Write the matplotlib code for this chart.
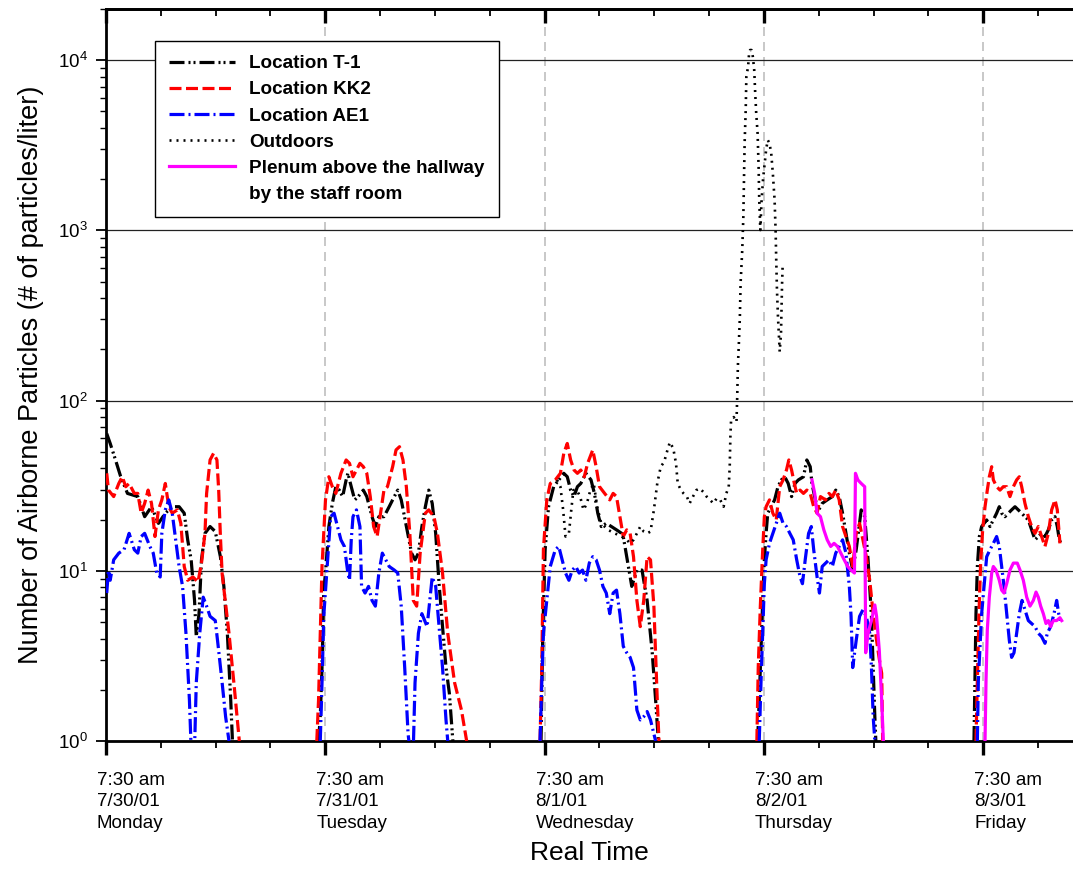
import numpy as np
import matplotlib
matplotlib.use('Agg')
import matplotlib.pyplot as plt
from matplotlib.lines import Line2D
from matplotlib.ticker import FixedLocator, LogLocator, NullFormatter, MultipleLocator
import matplotlib.transforms as mtransforms

plt.rcParams['font.family'] = ['Liberation Sans', 'DejaVu Sans']
plt.rcParams['mathtext.fontset'] = 'custom'
plt.rcParams['mathtext.rm'] = 'Liberation Sans'
plt.rcParams['mathtext.it'] = 'Liberation Sans:italic'
plt.rcParams['mathtext.bf'] = 'Liberation Sans:bold'
plt.rcParams['lines.scale_dashes'] = False

# ---------------- data: (hours since Mon 7/30/01 7:30 am, particles/liter) ----------------
T1 = [(0.08, 64), (0.46, 56), (1.03, 45), (1.59, 36), (2.35, 28.5), (3.48, 27.3), (4.23, 20.8),
      (4.98, 23.8), (5.74, 19), (6.49, 21.8), (7.25, 23.8), (8.00, 23.8), (8.56, 21.8), (8.94, 15.2),
      (9.32, 11.6), (9.69, 6.7), (9.88, 4.1), (10.18, 5.6), (10.45, 11.6), (10.83, 16.6), (11.39, 18.2),
      (11.96, 17), (12.52, 12.1), (12.90, 8.1), (13.28, 4.3), (13.65, 1.74), (13.84, 1.0),
      (23.26, 1.0), (23.45, 1.39), (23.64, 2.7), (23.83, 7.7), (24.02, 9.7), (24.39, 18.2), (24.77, 24.9),
      (25.15, 31.2), (25.53, 29.8), (25.90, 27.3), (26.28, 34.2), (26.47, 37.4), (26.84, 31.2),
      (27.22, 26.1), (27.60, 27.3), (28.16, 29.8), (28.54, 27.3), (29.11, 20.8), (29.48, 18.2),
      (29.86, 20.8), (30.42, 20.8), (30.99, 23.8), (31.55, 27.3), (31.93, 29.8), (32.31, 26.1),
      (32.87, 18.2), (33.44, 12.7), (33.82, 11.6), (34.19, 12.7), (34.57, 18.2), (34.95, 23.8),
      (35.32, 29.8), (35.70, 24.9), (36.08, 16.6), (36.45, 8.4), (36.83, 4.7), (37.21, 2.7),
      (37.58, 1.9), (37.96, 1.0),
      (47.61, 1.0), (47.80, 4.3), (48.06, 13.3), (48.43, 23.8), (48.99, 31.2), (49.55, 34.2),
      (50.10, 37.4), (50.48, 35.7), (50.85, 29.8), (51.22, 27.3), (51.59, 31.2), (51.96, 32.6),
      (52.52, 37.4), (53.08, 34.2), (53.45, 28.5), (53.82, 21.8), (54.20, 18.2), (54.75, 19.0),
      (55.31, 18.2), (55.87, 17.4), (56.43, 16.6), (56.61, 15.9), (57.17, 10.6), (57.54, 8.1),
      (58.10, 10.1), (58.66, 10.1), (59.22, 6.7), (59.78, 3.3), (60.15, 1.74), (60.45, 1.0),
      (71.31, 1.0), (71.49, 1.74), (71.68, 3.4), (71.87, 6.7), (72.05, 11.6), (72.24, 16.6),
      (72.42, 21.8), (72.80, 23.8), (73.17, 26.1), (73.54, 31.2), (73.91, 34.2), (74.28, 35.7),
      (74.66, 32.6), (75.03, 27.3), (75.40, 32.6), (75.77, 34.2), (76.33, 35.7), (76.70, 44.8),
      (77.07, 40.9), (77.26, 32.6), (77.63, 26.1), (78.00, 22.8), (78.38, 24.9), (78.93, 26.1),
      (79.49, 27.3), (79.86, 29.8), (80.24, 27.3), (80.61, 21.8), (80.98, 16.6), (81.35, 12.7),
      (81.72, 10.1), (82.10, 13.3), (82.65, 22.8), (83.03, 20.8), (83.40, 11.6), (83.77, 5.4),
      (83.96, 2.7), (84.14, 1.39), (84.25, 1.0),
      (94.99, 1.0), (95.10, 2.28), (95.21, 5.6), (95.36, 10.6), (95.58, 15.9), (95.83, 18.2),
      (96.09, 19.0), (96.38, 19.9), (96.74, 18.2), (97.11, 19.9), (97.47, 21.8), (97.76, 23.8),
      (98.02, 21.8), (98.38, 20.8), (98.75, 21.8), (99.11, 22.8), (99.48, 23.8), (99.84, 22.8),
      (100.21, 21.8), (100.57, 20.8), (100.94, 19.9), (101.30, 17.4), (101.67, 15.2), (102.03, 15.9),
      (102.40, 16.6), (102.76, 15.9), (103.13, 17.4), (103.49, 19.9), (103.86, 20.8), (104.11, 18.2),
      (104.33, 15.2), (104.51, 14.5)]

KK2 = [(0.08, 37.4), (0.27, 29.8), (0.84, 27.3), (1.40, 32.6), (1.78, 35.7), (2.16, 31.2), (2.53, 32.6),
       (3.10, 28.5), (3.48, 28.5), (3.85, 21.8), (4.23, 24.9), (4.61, 29.8), (4.98, 24.9), (5.36, 15.9),
       (5.74, 22.8), (6.11, 26.1), (6.49, 32.6), (6.87, 23.8), (7.25, 21.8), (7.81, 22.8), (8.19, 19.0),
       (8.56, 10.6), (8.94, 8.8), (9.51, 9.2), (10.07, 8.6), (10.45, 11.1), (10.83, 16.6), (11.01, 28.5),
       (11.39, 44.8), (11.77, 49), (12.14, 44.8), (12.33, 30), (12.52, 16), (12.71, 9.6), (13.46, 4.3),
       (14.03, 2.1), (14.59, 1.0),
       (23.07, 1.0), (23.26, 1.74), (23.45, 4.3), (23.64, 10.6), (24.02, 26.1), (24.39, 35.7),
       (24.77, 31.2), (25.15, 28.5), (25.71, 37.4), (26.28, 44.8), (26.65, 42.8), (27.03, 35.7),
       (27.41, 39.1), (27.79, 42.8), (28.16, 40.9), (28.54, 37.4), (28.92, 27.3), (29.29, 18.2),
       (29.67, 15.9), (30.05, 21.8), (30.42, 29.8), (30.80, 31.2), (31.37, 40.9), (31.74, 51.3),
       (32.12, 53.6), (32.50, 44.8), (32.87, 31.2), (33.25, 16.6), (33.63, 6.7), (34.00, 6.2),
       (34.38, 12.7), (34.95, 21.8), (35.32, 22.8), (35.89, 20.8), (36.27, 16.6), (36.83, 9.7),
       (37.40, 4.3), (38.15, 2.2), (38.90, 1.52), (39.47, 1.0),
       (47.50, 1.0), (47.69, 2.7), (47.87, 13.3), (48.24, 26.1), (48.62, 32.6), (49.17, 34.2),
       (49.73, 37.4), (50.10, 49), (50.48, 56), (50.85, 44.8), (51.22, 39.1), (51.59, 37.4),
       (51.96, 39.1), (52.34, 35.7), (52.71, 42.8), (53.27, 51.3), (53.64, 40.9), (54.01, 31.2),
       (54.57, 28.5), (55.13, 26.1), (55.50, 28.5), (55.87, 27.3), (56.24, 20.8), (56.61, 15.9),
       (56.99, 17.4), (57.36, 16.6), (57.73, 12.1), (58.10, 6.7), (58.47, 4.7), (58.85, 6.7),
       (59.22, 12.1), (59.59, 11.6), (59.96, 6.2), (60.33, 1.74), (60.52, 1.0),
       (71.23, 1.0), (71.38, 2.7), (71.61, 6.2), (71.87, 13.3), (72.05, 20.8), (72.24, 23.8),
       (72.61, 26.1), (72.98, 21.8), (73.35, 19.9), (73.73, 31.2), (74.10, 34.2), (74.47, 39.1),
       (74.73, 44.8), (75.03, 39.1), (75.33, 32.6), (75.59, 28.5), (75.96, 29.8), (76.33, 28.5),
       (76.70, 29.8), (77.07, 28.5), (77.45, 23.8), (77.82, 21.8), (78.19, 27.3), (78.75, 26.1),
       (79.12, 28.5), (79.49, 27.3), (79.86, 29.8), (80.24, 26.1), (80.61, 18.2), (80.98, 15.9),
       (81.35, 13.9), (81.72, 10.6), (82.10, 16.6), (82.47, 19.0), (82.84, 15.2), (83.21, 12.1),
       (83.58, 8.8), (83.96, 5.6), (84.33, 3.9), (84.70, 2.86), (84.89, 2.5), (85.00, 1.0),
       (95.21, 1.0), (95.36, 2.28), (95.54, 5.6), (95.72, 11.1), (95.94, 17.4), (96.20, 23.8),
       (96.45, 29.8), (96.67, 35.7), (96.93, 40.9), (97.11, 34.2), (97.47, 31.2), (97.84, 29.8),
       (98.20, 31.2), (98.57, 31.2), (98.93, 27.3), (99.30, 31.2), (99.66, 34.2), (99.95, 35.7),
       (100.21, 31.2), (100.57, 24.9), (100.94, 20.8), (101.30, 18.2), (101.67, 16.6), (102.03, 18.2),
       (102.40, 15.9), (102.76, 13.9), (103.13, 16.6), (103.49, 22.8), (103.86, 26.1), (104.11, 22.8),
       (104.40, 14.5)]

AE1 = [(0.08, 7.4), (0.27, 10.1), (0.46, 8.8), (0.84, 11.6), (1.40, 12.7), (1.97, 13.3), (2.53, 16.6),
       (3.10, 13.3), (3.48, 12.7), (3.85, 15.9), (4.23, 16.6), (4.80, 13.9), (5.17, 12.7), (5.55, 9.7),
       (5.93, 9.2), (6.11, 16.6), (6.49, 22.8), (6.87, 26.1), (7.25, 21.8), (7.62, 15.2), (8.00, 10.6),
       (8.38, 8.1), (8.75, 4.3), (9.13, 1.74), (9.32, 0.9), (9.69, 0.9), (9.88, 2.2), (10.26, 4.3),
       (10.64, 7.0), (11.01, 6.2), (11.39, 5.4), (11.96, 5.1), (12.33, 3.4), (12.71, 2.2), (13.09, 1.39),
       (13.46, 1.0),
       (23.45, 1.0), (23.64, 2.2), (23.83, 5.4), (24.21, 10.6), (24.58, 20.8), (24.96, 21.8),
       (25.34, 18.2), (25.71, 15.2), (26.09, 13.9), (26.47, 9.7), (26.65, 8.8), (26.84, 15.2),
       (27.03, 20.8), (27.41, 22.8), (27.79, 18.2), (27.97, 8.1), (28.35, 7.4), (28.73, 8.1),
       (29.11, 6.7), (29.48, 6.2), (29.86, 9.7), (30.24, 12.7), (30.61, 11.6), (30.99, 10.6),
       (31.55, 10.1), (31.93, 9.7), (32.31, 6.2), (32.69, 2.7), (33.06, 1.1), (33.25, 0.9),
       (33.63, 0.9), (33.82, 2.2), (34.19, 4.3), (34.57, 5.6), (35.14, 4.7), (35.70, 9.2),
       (36.08, 8.1), (36.45, 4.7), (36.83, 2.7), (37.21, 1.33), (37.40, 1.0),
       (47.50, 1.0), (47.69, 2.2), (47.87, 4.3), (48.24, 6.7), (48.62, 10.6), (49.17, 13.3),
       (49.55, 13.9), (49.92, 11.6), (50.29, 9.7), (50.66, 8.8), (51.03, 10.1), (51.41, 10.6),
       (51.78, 9.7), (52.15, 10.1), (52.52, 8.8), (52.89, 11.1), (53.27, 12.1), (53.64, 11.6),
       (54.01, 10.1), (54.38, 8.1), (54.75, 7.4), (55.13, 5.6), (55.50, 7.4), (55.87, 7.7),
       (56.24, 5.6), (56.61, 3.6), (56.99, 3.3), (57.36, 3.1), (57.73, 2.7), (57.92, 2.0),
       (58.10, 1.52), (58.47, 1.33), (58.85, 1.39), (59.22, 1.49), (59.59, 1.33), (59.96, 1.1),
       (60.15, 1.0),
       (71.49, 1.0), (71.68, 2.2), (71.87, 4.3), (72.05, 8.4), (72.24, 11.6), (72.61, 14.5),
       (72.98, 16.6), (73.35, 19.0), (73.73, 21.8), (74.10, 19.0), (74.47, 18.2), (74.84, 16.6),
       (75.21, 15.2), (75.59, 11.6), (75.96, 9.2), (76.22, 8.4), (76.52, 11.6), (76.89, 16.6),
       (77.19, 18.2), (77.45, 13.3), (77.82, 9.2), (78.08, 7.4), (78.38, 10.6), (78.75, 11.1),
       (79.12, 11.6), (79.49, 10.6), (79.86, 12.7), (80.24, 13.9), (80.61, 15.2), (80.98, 12.7),
       (81.35, 8.1), (81.54, 5.4), (81.72, 2.7), (82.10, 3.9), (82.47, 5.4), (82.84, 5.9),
       (83.21, 5.4), (83.58, 4.3), (83.77, 2.7), (83.96, 1.39), (84.14, 1.0),
       (95.36, 1.0), (95.47, 2.28), (95.65, 3.6), (95.83, 5.6), (96.09, 8.1), (96.38, 12.1),
       (96.74, 13.3), (97.11, 14.5), (97.47, 15.9), (97.76, 13.9), (98.02, 10.6), (98.28, 8.1),
       (98.57, 5.6), (98.86, 3.9), (99.11, 3.1), (99.37, 3.3), (99.66, 4.3), (99.95, 5.6),
       (100.25, 6.7), (100.57, 5.9), (100.94, 5.1), (101.30, 4.9), (101.67, 4.7), (102.03, 4.3),
       (102.40, 4.1), (102.76, 3.75), (103.02, 4.3), (103.38, 4.7), (103.75, 5.6), (104.04, 6.7),
       (104.26, 5.6), (104.48, 5.1)]

OUTDOORS = [(49.36, 34.2), (49.73, 31.2), (50.03, 22.8), (50.29, 15.9), (50.66, 16.6), (50.92, 22.8),
            (51.15, 29.8), (51.52, 29.8), (51.89, 27.3), (52.26, 22.8), (52.63, 24.9), (53.01, 29.8),
            (53.38, 32.6), (53.75, 23.8), (54.20, 19.0), (54.94, 17.4), (55.68, 16.6), (56.43, 15.9),
            (56.99, 15.2), (57.36, 14.5), (57.73, 15.2), (58.10, 16.6), (58.47, 18.2), (58.85, 17.0),
            (59.22, 16.6), (59.59, 17.0), (59.96, 22.8), (60.33, 32.6), (60.71, 40.9), (61.08, 43.6),
            (61.45, 51.3), (61.71, 57), (62.08, 52.4), (62.38, 42.8), (62.57, 32.6), (62.83, 30.5),
            (63.20, 28.5), (63.57, 27.3), (63.87, 24.9), (64.24, 27.3), (64.61, 29.8), (64.98, 30.5),
            (65.36, 29.1), (65.73, 27.3), (66.10, 26.1), (66.47, 24.9), (66.84, 26.7), (67.22, 26.1),
            (67.59, 23.8), (67.89, 28.5), (68.15, 31.2), (68.26, 40.9), (68.33, 61), (68.41, 77),
            (68.70, 80), (69.00, 75), (69.08, 105), (69.15, 158), (69.26, 217), (69.37, 311),
            (69.45, 489), (69.63, 767), (69.75, 1205), (69.82, 1980), (69.89, 3250), (70.01, 5100),
            (70.08, 8000), (70.27, 9160), (70.38, 10970), (70.49, 11480), (70.64, 11480), (70.79, 10490),
            (70.94, 8760), (71.05, 6390), (71.16, 4870), (71.31, 3720), (71.42, 2370), (71.49, 1510),
            (71.61, 1005), (71.75, 1510), (71.90, 1980), (72.05, 2370), (72.24, 2970), (72.42, 3400),
            (72.61, 3250), (72.80, 2840), (72.98, 2160), (73.17, 1510), (73.28, 1005), (73.35, 670),
            (73.43, 447), (73.54, 311), (73.73, 194), (73.87, 248), (73.99, 489), (74.06, 641)]

PLENUM = [(77.26, 34.2), (77.56, 28.5), (77.82, 21.8), (78.19, 20.8), (78.56, 17.4), (78.93, 15.2),
          (79.31, 13.9), (79.68, 14.5), (80.05, 13.9), (80.42, 12.7), (80.79, 11.6), (81.17, 10.6),
          (81.54, 10.1), (81.91, 9.7), (82.02, 37.4), (82.28, 34.2), (82.65, 32.6), (83.03, 31.2),
          (83.14, 3.3), (83.40, 4.3), (83.77, 5.1), (84.14, 6.3), (84.33, 5.4), (84.63, 3.4),
          (84.89, 1.74), (85.07, 1.0),
          (96.20, 1.0), (96.31, 2.28), (96.45, 4.5), (96.67, 7.0), (96.93, 9.7), (97.11, 10.6),
          (97.40, 10.1), (97.76, 8.8), (98.02, 7.7), (98.28, 7.4), (98.57, 8.4), (98.93, 10.1),
          (99.30, 11.1), (99.73, 11.1), (100.03, 10.1), (100.39, 8.8), (100.76, 7.0), (101.12, 6.2),
          (101.49, 6.7), (101.78, 7.5), (102.03, 7.0), (102.29, 6.2), (102.58, 5.6), (102.87, 4.9),
          (103.13, 5.1), (103.38, 4.7), (103.67, 5.1), (104.04, 5.1), (104.40, 5.3), (104.59, 5.1)]

SERIES_LABELS = ['Location T-1', 'Location KK2', 'Location AE1', 'Outdoors',
                 'Plenum above the hallway', 'by the staff room']
DAY_TICKS = [0, 24, 48, 72, 96]
DAY_LABELS = ['7:30 am\n7/30/01\nMonday', '7:30 am\n7/31/01\nTuesday', '7:30 am\n8/1/01\nWednesday',
              '7:30 am\n8/2/01\nThursday', '7:30 am\n8/3/01\nFriday']


def split(data, gap=4.0):
    t = np.array([p[0] for p in data], float)
    v = np.array([p[1] for p in data], float)
    br = np.where(np.diff(t) > gap)[0] + 1
    t = np.insert(t, br, np.nan)
    v = np.insert(v, br, np.nan)
    return t, v


W, H = 1073, 869
fig = plt.figure(figsize=(W / 100, H / 100), dpi=100)
ax = fig.add_axes([106 / W, 1 - 741 / H, 1 - 106 / W, (741 - 9) / H])

px = 0.72  # points per pixel
styles = [
    dict(color='black', lw=2.3, linestyle=(0, (15 * px, 4 * px, 2 * px, 3 * px, 2 * px, 4 * px))),
    dict(color='#ff0000', lw=2.3, linestyle=(0, (12 * px, 4.5 * px))),
    dict(color='#0000ff', lw=2.3, linestyle=(0, (15 * px, 4 * px, 2 * px, 4 * px))),
    dict(color='black', lw=1.9, linestyle=(0, (2 * px, 5 * px))),
    dict(color='#ff00ff', lw=2.3, linestyle='-'),
]
handles = []
for data, st in zip([T1, KK2, AE1, OUTDOORS, PLENUM], styles):
    t, v = split(data)
    ln, = ax.plot(t, v, **st, zorder=3)
    handles.append(ln)
handles.append(Line2D([], [], linestyle='none'))

XMAX = (W - 106) / 219.3 * 24
ax.set_yscale('log')
ax.set_ylim(1, 2e4)
ax.set_xlim(0, XMAX)

ax.yaxis.set_major_locator(LogLocator(base=10, numticks=10))
ax.yaxis.set_minor_locator(LogLocator(base=10, subs=np.arange(2, 10), numticks=50))
ax.yaxis.set_minor_formatter(NullFormatter())
ax.xaxis.set_major_locator(FixedLocator(DAY_TICKS))
ax.xaxis.set_minor_locator(MultipleLocator(6))
ax.set_xticklabels(DAY_LABELS)

ax.tick_params(axis='y', which='major', direction='out', length=7, width=1.3, labelsize=13.5, pad=6)
ax.tick_params(axis='y', which='minor', direction='out', length=4, width=1.0)
ax.tick_params(axis='x', which='major', direction='out', length=10, width=2.4, labelsize=13.5, pad=12)
ax.tick_params(axis='x', which='minor', direction='out', length=5, width=1.3)

off = mtransforms.ScaledTranslation(-0.09, 0, fig.dpi_scale_trans)
for lab in ax.get_xticklabels():
    lab.set_horizontalalignment('left')
    lab.set_linespacing(1.38)
    lab.set_transform(lab.get_transform() + off)

tw = ax.twiny()
tw.set_xlim(0, XMAX)
tw.xaxis.set_major_locator(FixedLocator(DAY_TICKS))
tw.xaxis.set_minor_locator(MultipleLocator(6))
tw.xaxis.set_major_formatter(NullFormatter())
tw.tick_params(axis='x', which='major', direction='in', length=10, width=2.4)
tw.tick_params(axis='x', which='minor', direction='in', length=5, width=1.3)
for s in ['left', 'right', 'bottom']:
    tw.spines[s].set_visible(False)
tw.spines['top'].set_linewidth(2.0)

for s in ['left', 'bottom', 'top']:
    ax.spines[s].set_linewidth(2.0)
ax.spines['right'].set_visible(False)

ax.set_axisbelow(True)
ax.yaxis.grid(True, which='major', color='#222222', lw=0.9)
ax.xaxis.grid(True, which='major', color='#c8c8c8', lw=1.4, linestyle=(0, (9 * px, 6 * px)))

ax.set_ylabel('Number of Airborne Particles (# of particles/liter)', fontsize=19.5, labelpad=10)
ax.set_xlabel('Real Time', fontsize=19, labelpad=6)

leg = ax.legend(handles, SERIES_LABELS, loc='upper left',
                bbox_to_anchor=(155 / W, 1 - 41 / H), bbox_transform=fig.transFigure,
                borderaxespad=0, prop={'weight': 'bold', 'size': 13.6},
                handlelength=3.5, handletextpad=0.75, labelspacing=0.47, borderpad=0.75,
                fancybox=False, framealpha=1, edgecolor='black')
leg.get_frame().set_linewidth(1.0)

fig.savefig('out.png', dpi=100)
